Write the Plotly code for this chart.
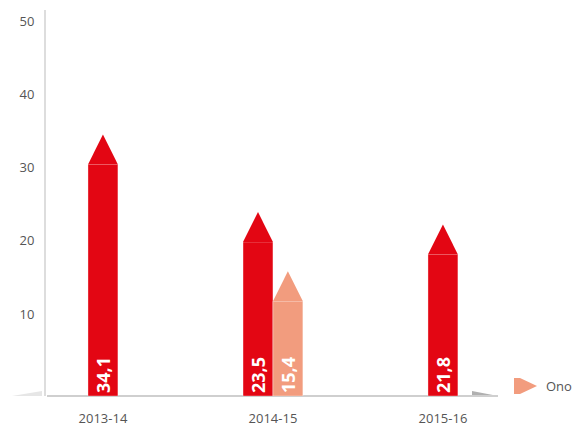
import plotly.graph_objects as go

# ---- data ----
categories = ["2013-14", "2014-15", "2015-16"]
red_values = [34.1, 23.5, 21.8]
ono_values = [None, 15.4, None]
ono_name = "Ono"
y_ticks = [10, 20, 30, 40, 50]

# ---- style constants ----
RED = "#E30613"
SALMON = "#F29C7E"
AXIS_MIN = -1.23
AXIS_MAX = 51.6
BAR_W = 0.176
TIP_OVER = 0.45      # tip sits slightly above the value
TRI_H = 4.1          # arrow head height (data units)


def fmt(v):
    return f"{v:.1f}".replace(".", ",")


fig = go.Figure()

red_x = list(range(len(categories)))
red_off = [-BAR_W if o is not None else -BAR_W / 2 for o in ono_values]
ono_x = [i for i, o in enumerate(ono_values) if o is not None]
ono_y = [o for o in ono_values if o is not None]


def add_series(xs, offs, vals, color, name):
    body = [v + TIP_OVER - TRI_H - AXIS_MIN for v in vals]
    fig.add_trace(go.Bar(
        x=xs, y=body, base=AXIS_MIN, width=BAR_W, offset=offs,
        marker=dict(color=color, line=dict(color="rgba(255,255,255,0.35)", width=1)),
        text=[fmt(v) for v in vals], textposition="inside", insidetextanchor="start",
        textangle=-90, insidetextfont=dict(color="white", size=18, family="Open Sans", weight="bold"),
        cliponaxis=False, showlegend=False, hoverinfo="skip", name=name,
    ))
    for x, o, v in zip(xs, offs, vals):
        left = x + o
        top_body = v + TIP_OVER - TRI_H
        fig.add_trace(go.Scatter(
            x=[left, left + BAR_W / 2, left + BAR_W, left],
            y=[top_body, v + TIP_OVER, top_body, top_body],
            fill="toself", fillcolor=color, mode="lines",
            line=dict(width=0, color=color), showlegend=False, hoverinfo="skip",
        ))


add_series(red_x, red_off, red_values, RED, "")
add_series(ono_x, [0] * len(ono_x), ono_y, SALMON, ono_name)

W, H = 575, 427
L, R, T, B = 46, 78, 10, 31
pw = W - L - R
ph = H - T - B


def px(xp):
    return (xp - L) / pw


def py(yp):
    return (H - B - yp) / ph


shapes = [
    dict(type="path", xref="paper", yref="paper",
         path=f"M {px(12)} {py(396)} L {px(42)} {py(391)} L {px(42)} {py(396)} Z",
         fillcolor="#e6e6e6", line=dict(width=0), layer="below"),
    dict(type="path", xref="paper", yref="paper",
         path=f"M {px(472)} {py(396)} L {px(472)} {py(391)} L {px(498)} {py(396)} Z",
         fillcolor="#b0b0b0", line=dict(width=0), layer="below"),
    dict(type="line", xref="paper", yref="paper", x0=px(47), x1=px(498),
         y0=py(396), y1=py(396), line=dict(color="#cfcfcf", width=2), layer="below"),
    # legend marker (arrow: small rect + triangle)
    dict(type="rect", xref="paper", yref="paper", x0=px(514), x1=px(520),
         y0=py(394), y1=py(378), fillcolor=SALMON, line=dict(width=0)),
    dict(type="path", xref="paper", yref="paper",
         path=f"M {px(520)} {py(378)} L {px(537)} {py(386)} L {px(520)} {py(394)} Z",
         fillcolor=SALMON, line=dict(width=0)),
]

annotations = [
    dict(text=ono_name, xref="paper", yref="paper", x=px(544), y=py(386),
         xanchor="left", yanchor="middle", showarrow=False,
         font=dict(size=13, color="#555555")),
]

fig.update_layout(
    width=W, height=H,
    margin=dict(l=L, r=R, t=T, b=B),
    paper_bgcolor="white", plot_bgcolor="white",
    barmode="overlay",
    font=dict(family="Open Sans", color="#555555", size=12),
    shapes=shapes,
    annotations=annotations,
    showlegend=False,
    uniformtext=dict(mode="show", minsize=18),
    xaxis=dict(
        range=[-0.335, 2.318], tickvals=red_x, ticktext=categories,
        showgrid=False, zeroline=False, showline=False, ticks="outside",
        ticklen=10, tickcolor="rgba(0,0,0,0)", tickfont=dict(size=13, color="#555555"),
        fixedrange=True, automargin=False,
    ),
    yaxis=dict(
        range=[AXIS_MIN, AXIS_MAX], tickvals=y_ticks, ticktext=[str(t) for t in y_ticks],
        showgrid=False, zeroline=False, showline=True, linecolor="#dddddd", linewidth=2,
        ticks="outside", ticklen=7, tickcolor="rgba(0,0,0,0)",
        tickfont=dict(size=13, color="#555555"), fixedrange=True, automargin=False,
    ),
)

fig.write_html(
    "out.html",
    config={"displayModeBar": False},
    post_script="document.body.style.margin='0';document.body.style.padding='0';",
)
